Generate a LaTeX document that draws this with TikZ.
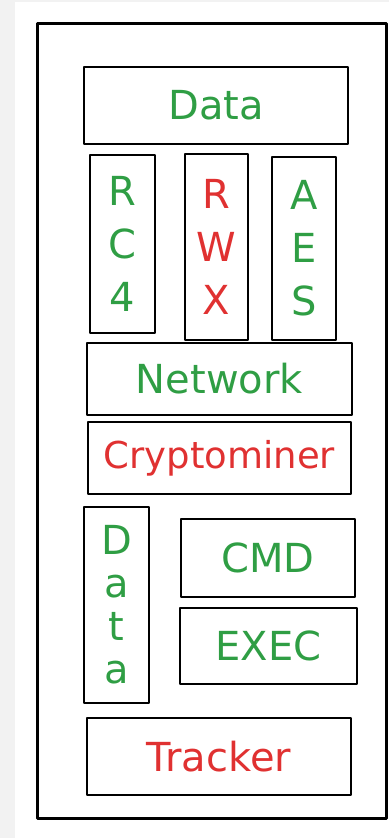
\documentclass[tikz,border=0pt]{standalone}
\usepackage{fontspec}
\setmainfont{DejaVu Sans}
\usepackage{tikz}
\usetikzlibrary{positioning}
\definecolor{okgreen}{HTML}{2F9E44}
\definecolor{badred}{HTML}{E03131}

\begin{document}
\begin{tikzpicture}[x=1pt,y=-1pt,line cap=round,line join=round,
    box@/.style={draw,line width=2.8pt,inner sep=0pt,align=center,
      font=\fontsize{40}{53}\selectfont},
    ok@/.style={text=okgreen},bad@/.style={text=badred}]
  \useasboundingbox (0,0) rectangle (389,838);
  \fill[black!5] (0,0) rectangle (15,838);
  \fill[black!5] (0,0) rectangle (389,2);

  % The outer frame.
  \draw[line width=3pt] (37,23) rectangle (386,818);

  % The upper stack.
  \node[box@,ok@,minimum width=264pt,minimum height=77pt] (data) at (216,105.5) {Data};
  \node[box@,ok@,minimum width=65pt,minimum height=178pt] (rc4) at (122.5,244) {R\\C\\4};
  \node[box@,bad@,minimum width=63pt,minimum height=186pt] (rwx) at (216.5,247) {R\\W\\X};
  \node[box@,ok@,minimum width=64pt,minimum height=183pt] (aes) at (304,248.5) {A\\E\\S};
  \node[box@,ok@,minimum width=265pt,minimum height=72pt] (network) at (219.5,379) {Network};
  \node[box@,bad@,minimum width=263pt,minimum height=72pt,
    font=\fontsize{37}{44}\selectfont] (miner) at (219.5,458) {Cryptominer};

  % The lower stack.
  \node[box@,ok@,minimum width=65pt,minimum height=196pt,
    font=\fontsize{40}{43}\selectfont] (datav) at (116.5,605) {D\\a\\t\\a};
  \node[box@,ok@,minimum width=174pt,minimum height=78pt] (cmd) at (268,558) {CMD};
  \node[box@,ok@,minimum width=177pt,minimum height=76pt] (exec) at (268.5,646) {EXEC};
  \node[box@,bad@,minimum width=264pt,minimum height=77pt] (tracker) at (219,756.5) {Tracker};
\end{tikzpicture}
\end{document}
